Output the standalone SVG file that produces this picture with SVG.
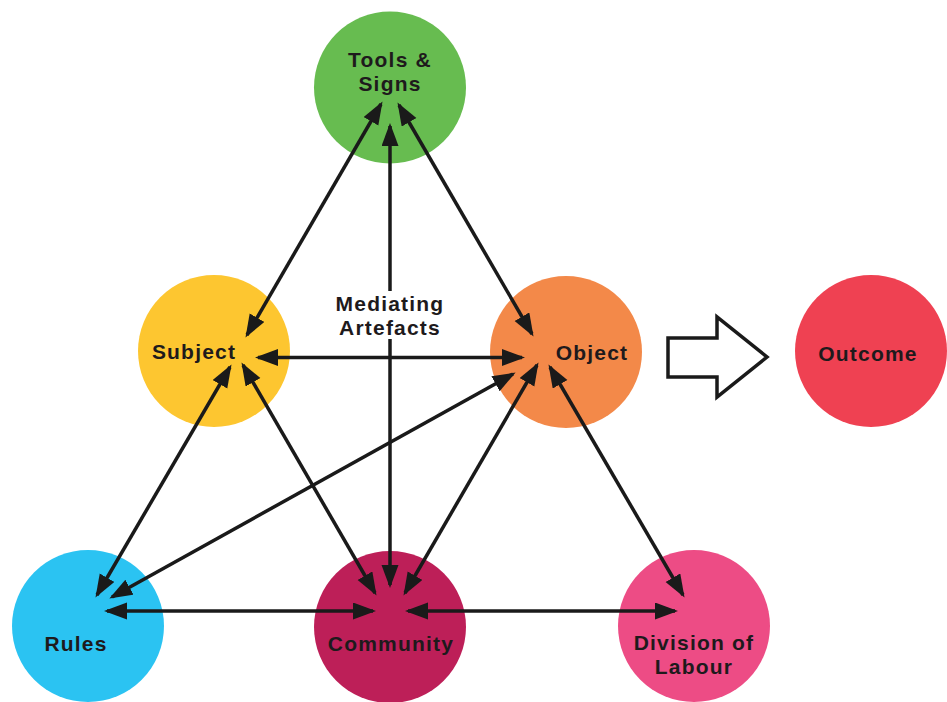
<svg xmlns="http://www.w3.org/2000/svg" width="947" height="702" viewBox="0 0 947 702">
<style>
.lbl{font-family:"Liberation Sans",Arial,sans-serif;font-weight:bold;font-size:21px;letter-spacing:1.2px;fill:#1e1a1c;text-anchor:middle}
.con{stroke:#1a1a1a;stroke-width:3.5;fill:none;marker-start:url(#ah);marker-end:url(#ah)}
</style>
<defs>
<marker id="ah" markerUnits="userSpaceOnUse" markerWidth="24" markerHeight="18" refX="20" refY="8.5" orient="auto-start-reverse" viewBox="0 0 24 18">
<path d="M0,0 L23,8.5 L0,17 z" fill="#1a1a1a"/>
</marker>
</defs>
<rect width="947" height="702" fill="#ffffff"/>
<g id="tools"><circle cx="390" cy="87.5" r="76" fill="#67bc50"/><text class="lbl" x="390" y="67">Tools &amp;</text><text class="lbl" x="390" y="91">Signs</text></g>
<g id="subject"><circle cx="214" cy="351" r="76" fill="#fdc630"/><text class="lbl" x="194" y="359">Subject</text></g>
<g id="object"><circle cx="566" cy="352" r="76" fill="#f38949"/><text class="lbl" x="592" y="360">Object</text></g>
<g id="outcome"><circle cx="871" cy="351" r="76" fill="#ef4152"/><text class="lbl" x="868" y="361">Outcome</text></g>
<g id="rules"><circle cx="88" cy="626" r="76" fill="#2bc3f2"/><text class="lbl" x="76" y="651">Rules</text></g>
<g id="community"><circle cx="390" cy="627" r="76" fill="#bd1f58"/><text class="lbl" x="391" y="651">Community</text></g>
<g id="division"><circle cx="694" cy="626" r="76" fill="#ed4c85"/><text class="lbl" x="694" y="650">Division of</text><text class="lbl" x="694" y="674">Labour</text></g>
<g id="connectors">
<line class="con" x1="381" y1="104" x2="247" y2="335"/>
<line class="con" x1="390" y1="126" x2="390" y2="585"/>
<line class="con" x1="399" y1="105" x2="532" y2="334"/>
<line class="con" x1="258" y1="357.5" x2="522" y2="357.5"/>
<line class="con" x1="230" y1="367" x2="97" y2="595"/>
<line class="con" x1="243" y1="365" x2="375" y2="593"/>
<line class="con" x1="513" y1="374" x2="112" y2="597"/>
<line class="con" x1="537" y1="365" x2="405" y2="593"/>
<line class="con" x1="550" y1="367" x2="683" y2="595"/>
<line class="con" x1="107" y1="611" x2="373" y2="611"/>
<line class="con" x1="408" y1="611" x2="675" y2="611"/>
<path id="bigarrow" d="M668,338 L717,338 L717,317 L767,357 L717,397 L717,377 L668,377 Z" fill="#ffffff" stroke="#1a1a1a" stroke-width="3.5" stroke-linejoin="miter"/>
</g>
<g id="mediating"><rect x="333" y="291" width="114" height="48" fill="#ffffff"/><text class="lbl" x="390" y="311">Mediating</text><text class="lbl" x="390" y="335">Artefacts</text></g>
</svg>
